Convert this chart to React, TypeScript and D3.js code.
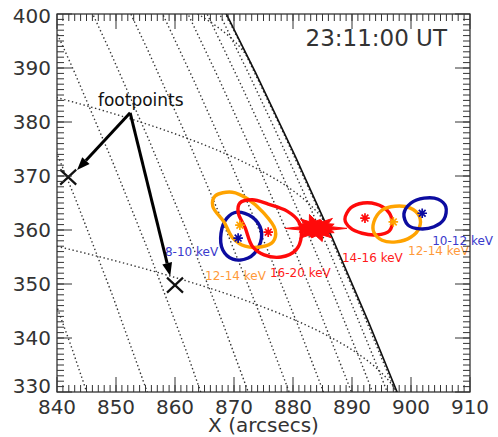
import React from "react";
import * as d3 from "d3";

const W = 498;
const H = 437;
const box = { left: 57, top: 14, right: 470, bottom: 392 };

const xDomain: [number, number] = [840, 910];
const yDomain: [number, number] = [330, 400];
const xTickLabels = [840, 850, 860, 870, 880, 890, 900, 910];
const yTickLabels = [330, 340, 350, 360, 370, 380, 390, 400];

// solar disk used for the heliographic grid
const sunRadius = 956.4;
const b0 = -5.65;
const lonShift = 0.45;
const gridStep = 2;

const timeLabel = "23:11:00 UT";

// contours in arcsec (x, y)
const c810 = [[870.5, 363.3], [873.1, 362.4], [874.6, 360.0], [874.2, 356.9], [872.4, 354.8], [869.8, 354.6], [868.1, 356.3], [867.8, 359.4], [868.8, 362.2]];
const c1214a = [[866.8, 366.3], [869.7, 367.0], [872.4, 365.7], [874.9, 363.3], [877.0, 360.0], [876.6, 357.8], [874.7, 356.9], [871.9, 357.0], [869.8, 358.5], [868.3, 361.5], [866.4, 364.4]];
const c1620 = [[871.0, 365.0], [873.1, 365.6], [875.8, 364.8], [879.0, 363.5], [881.0, 361.5], [881.4, 358.7], [880.5, 356.3], [878.0, 355.0], [875.1, 355.4], [873.1, 357.0], [871.9, 360.4], [870.7, 363.3]];
const c1416 = [[888.8, 362.0], [889.8, 364.1], [891.9, 365.0], [894.1, 364.8], [895.9, 363.7], [896.8, 361.7], [896.3, 359.8], [894.2, 359.1], [891.7, 359.4], [889.7, 360.4]];
const c1214b = [[893.7, 361.5], [895.1, 363.7], [897.3, 364.4], [899.8, 364.1], [901.4, 362.6], [901.4, 360.4], [900.0, 358.7], [897.5, 357.8], [895.1, 358.1], [893.7, 359.6]];
const c1012 = [[898.8, 363.0], [900.0, 365.0], [902.2, 365.9], [904.6, 365.7], [905.9, 364.3], [905.6, 362.0], [903.9, 360.6], [901.5, 360.2], [899.5, 360.9]];

const peaks = [[870.7, 358.5], [871.0, 360.9], [875.8, 359.6], [892.2, 362.2], [897.0, 361.5], [901.9, 363.1]];
const flareSite = [883.9, 360.3];

const bands = ["8-10 keV", "12-14 keV", "16-20 keV", "14-16 keV", "12-14 keV", "10-12 keV"];
const bandLabelPos = [[858.3, 355.2], [865.1, 350.7], [876.1, 351.3], [888.3, 354.1], [899.5, 355.4], [903.6, 357.2]];

const footpoints = [[841.9, 369.8], [860.0, 349.8]];
const arrowOrigin = [852.4, 381.7];
const arrowTips = [[843.4, 371.1], [859.2, 351.5]];
const footLabelPos = [854.2, 383.0];

const navy = "#0c0ca0";
const orange = "#ffa300";
const red = "#ff0a0a";
const contours = [
  { pts: c810, color: navy },
  { pts: c1214a, color: orange },
  { pts: c1620, color: red },
  { pts: c1416, color: red },
  { pts: c1214b, color: orange },
  { pts: c1012, color: navy },
];
const peakColors = [navy, orange, red, red, orange, navy];
const labelColors = ["#3a3acc", "#ff9a3a", "#ff1a1a", "#ff1a1a", "#ff9a3a", "#3a3acc"];

const spikes = [1, 0.65, 0.8, 0.9, 0.65, 0.85, 0.6, 1, 0.65, 0.8, 0.95, 0.6, 0.85, 0.65];

const font = "DejaVu Sans";

export default function App() {
  const xs = d3.scaleLinear().domain(xDomain).range([box.left, box.right]);
  const ys = d3.scaleLinear().domain(yDomain).range([box.bottom, box.top]);

  const ortho = d3
    .geoOrthographic()
    .scale(sunRadius)
    .translate([0, 0])
    .rotate([lonShift, -b0, 0])
    .precision(0.05);
  const toPlot = d3.geoTransform({
    point(x: number, y: number) {
      this.stream.point(xs(x), ys(-y));
    },
  });
  const proj = { stream: (s: any) => ortho.stream(toPlot.stream(s)) };
  const geo = d3.geoPath(proj as any);
  const grid = d3
    .geoGraticule()
    .step([gridStep, gridStep])
    .extentMinor([[-180, -80.001], [180, 80.001]])
    .precision(0.5)
    .lines();

  const contourLine = d3
    .line<number[]>()
    .x((d) => xs(d[0]))
    .y((d) => ys(d[1]))
    .curve(d3.curveCatmullRomClosed.alpha(0.5));

  const minor = d3.range(841, 910);
  const minorY = d3.range(331, 400);

  const star = (cx: number, cy: number, r: number) => {
    let p = "";
    for (let k = 0; k < 4; k++) {
      const a = (k * Math.PI) / 4;
      p += `M${cx - r * Math.cos(a)},${cy - r * Math.sin(a)}L${cx + r * Math.cos(a)},${cy + r * Math.sin(a)}`;
    }
    return p;
  };
  const cross = (cx: number, cy: number) =>
    `M${cx - 8},${cy - 7.5}L${cx + 8},${cy + 7.5}M${cx - 8},${cy + 7.5}L${cx + 8},${cy - 7.5}`;

  const fx = xs(flareSite[0]);
  const fy = ys(flareSite[1]);
  const n = spikes.length;
  const burst = d3.line().curve(d3.curveLinearClosed)(
    d3.range(n * 2).map((i) => {
      const a = (i * Math.PI) / n;
      const r = i % 2 === 0 ? spikes[i / 2] : 0.5;
      return [fx + 31 * r * Math.cos(a), fy + 15 * r * Math.sin(a)] as [number, number];
    })
  );

  const ox = xs(arrowOrigin[0]);
  const oy = ys(arrowOrigin[1]);

  return (
    <svg width={W} height={H} style={{ position: "absolute", left: 0, top: 0, background: "#fff" }}>
      <defs>
        <clipPath id="plot">
          <rect x={box.left} y={box.top} width={box.right - box.left} height={box.bottom - box.top} />
        </clipPath>
      </defs>
      <g clipPath="url(#plot)">
        {grid.map((g, i) => (
          <path key={i} d={geo(g) || ""} fill="none" stroke="#333" strokeWidth={1.4} strokeDasharray="1.4 2.6" />
        ))}
        <path d={geo({ type: "Sphere" } as any) || ""} fill="none" stroke="#111" strokeWidth={1.6} />
      </g>

      {contours.map((c, i) => (
        <path key={i} d={contourLine(c.pts) || ""} fill="none" stroke={c.color} strokeWidth={3.4} />
      ))}
      <path d={burst || ""} fill={red} stroke={red} strokeWidth={1} strokeLinejoin="round" />
      {peaks.map((p, i) => (
        <path key={i} d={star(xs(p[0]), ys(p[1]), 4.8)} stroke={peakColors[i]} strokeWidth={1.7} />
      ))}
      {bands.map((b, i) => (
        <text key={i} x={xs(bandLabelPos[i][0])} y={ys(bandLabelPos[i][1])} fill={labelColors[i]} fontSize={12} fontFamily={font}>
          {b}
        </text>
      ))}

      {footpoints.map((p, i) => (
        <path key={i} d={cross(xs(p[0]), ys(p[1]))} stroke="#111" strokeWidth={2.2} />
      ))}
      {arrowTips.map((t, i) => {
        const tx = xs(t[0]);
        const ty = ys(t[1]);
        const ang = Math.atan2(ty - oy, tx - ox);
        const len = 13;
        const hw = 5;
        const bx = tx - len * Math.cos(ang);
        const by = ty - len * Math.sin(ang);
        const px = -Math.sin(ang) * hw;
        const py = Math.cos(ang) * hw;
        return (
          <g key={i}>
            <line x1={ox} y1={oy} x2={bx} y2={by} stroke="#000" strokeWidth={3} />
            <path d={`M${tx},${ty}L${bx + px},${by + py}L${bx - px},${by - py}Z`} fill="#000" />
          </g>
        );
      })}
      <text x={xs(footLabelPos[0])} y={ys(footLabelPos[1])} textAnchor="middle" fontSize={17} fontFamily={font} fill="#111">
        footpoints
      </text>

      <rect x={box.left} y={box.top} width={box.right - box.left} height={box.bottom - box.top} fill="none" stroke="#222" strokeWidth={1.2} />
      <g stroke="#333" strokeWidth={1}>
        {minor.map((v) => (
          <g key={v}>
            <line x1={xs(v)} x2={xs(v)} y1={box.bottom} y2={box.bottom - 7} />
            <line x1={xs(v)} x2={xs(v)} y1={box.top} y2={box.top + 7} />
          </g>
        ))}
        {xTickLabels.map((v) => (
          <g key={v}>
            <line x1={xs(v)} x2={xs(v)} y1={box.bottom} y2={box.bottom - 15} />
            <line x1={xs(v)} x2={xs(v)} y1={box.top} y2={box.top + 15} />
          </g>
        ))}
        {minorY.map((v) => (
          <g key={v}>
            <line y1={ys(v)} y2={ys(v)} x1={box.left} x2={box.left + 7} />
            <line y1={ys(v)} y2={ys(v)} x1={box.right} x2={box.right - 7} />
          </g>
        ))}
        {yTickLabels.map((v) => (
          <g key={v}>
            <line y1={ys(v)} y2={ys(v)} x1={box.left} x2={box.left + 15} />
            <line y1={ys(v)} y2={ys(v)} x1={box.right} x2={box.right - 15} />
          </g>
        ))}
      </g>
      <g fontFamily={font} fontSize={20} fill="#333">
        {xTickLabels.map((v) => (
          <text key={v} x={xs(v)} y={414} textAnchor="middle">
            {v}
          </text>
        ))}
        {yTickLabels.map((v) => (
          <text key={v} x={51} y={Math.min(Math.max(ys(v) + 7, 23), 393)} textAnchor="end">
            {v}
          </text>
        ))}
        <text x={(box.left + box.right) / 2} y={432} textAnchor="middle">
          X (arcsecs)
        </text>
        <text x={447} y={46} textAnchor="end" fontSize={23}>
          {timeLabel}
        </text>
      </g>
    </svg>
  );
}
